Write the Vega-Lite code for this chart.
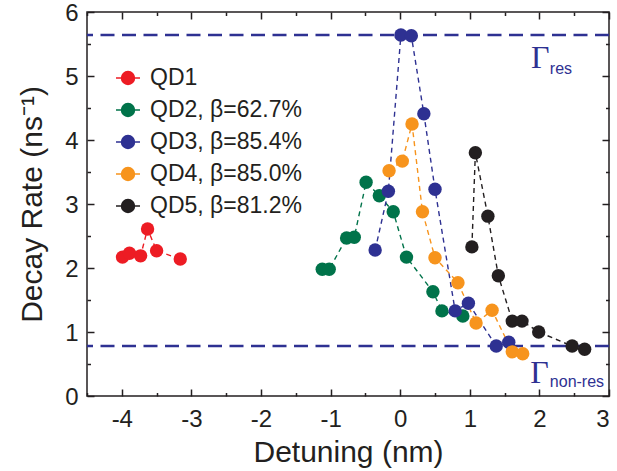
{
  "$schema": "https://vega.github.io/schema/vega-lite/v6.json",
  "width": 522,
  "height": 384,
  "autosize": {"type": "none"},
  "padding": {"left": 87, "top": 12, "right": 8, "bottom": 75},
  "background": "white",
  "config": {
    "view": {"stroke": "#231f20", "strokeWidth": 1.5},
    "font": "Liberation Sans",
    "axis": {
      "grid": false,
      "domain": false,
      "tickColor": "#231f20",
      "tickWidth": 1.5,
      "labelColor": "#231f20",
      "labelFont": "Liberation Sans",
      "labelFontSize": 24,
      "titleFont": "Liberation Sans",
      "titleFontWeight": "normal",
      "titleColor": "#231f20",
      "titleFontSize": 30
    },
    "legend": {
      "orient": "none",
      "legendX": 28,
      "legendY": 53,
      "padding": 0,
      "rowPadding": 7,
      "labelFont": "Liberation Sans",
      "labelFontSize": 23,
      "labelColor": "#231f20",
      "labelOffset": 9,
      "symbolSize": 576,
      "symbolStrokeWidth": 1.5,
      "symbolType": "M-1,0H-0.5M0.5,0H1M0.54,0A0.54,0.54,0,1,1,-0.54,0A0.54,0.54,0,1,1,0.54,0Z"
    }
  },
  "datasets": {
    "series": [
      {"series": "QD1", "x": -3.99, "y": 2.17},
      {"series": "QD1", "x": -3.89, "y": 2.23},
      {"series": "QD1", "x": -3.73, "y": 2.19},
      {"series": "QD1", "x": -3.63, "y": 2.61},
      {"series": "QD1", "x": -3.50, "y": 2.27},
      {"series": "QD1", "x": -3.16, "y": 2.14},
      {"series": "QD2, β=62.7%", "x": -1.12, "y": 1.98},
      {"series": "QD2, β=62.7%", "x": -1.02, "y": 1.98},
      {"series": "QD2, β=62.7%", "x": -0.77, "y": 2.47},
      {"series": "QD2, β=62.7%", "x": -0.66, "y": 2.48},
      {"series": "QD2, β=62.7%", "x": -0.49, "y": 3.34},
      {"series": "QD2, β=62.7%", "x": -0.30, "y": 3.13},
      {"series": "QD2, β=62.7%", "x": -0.10, "y": 2.88},
      {"series": "QD2, β=62.7%", "x": 0.09, "y": 2.17},
      {"series": "QD2, β=62.7%", "x": 0.47, "y": 1.63},
      {"series": "QD2, β=62.7%", "x": 0.60, "y": 1.33},
      {"series": "QD2, β=62.7%", "x": 0.90, "y": 1.25},
      {"series": "QD3, β=85.4%", "x": -0.36, "y": 2.28},
      {"series": "QD3, β=85.4%", "x": -0.17, "y": 3.20},
      {"series": "QD3, β=85.4%", "x": 0.01, "y": 5.64},
      {"series": "QD3, β=85.4%", "x": 0.16, "y": 5.63},
      {"series": "QD3, β=85.4%", "x": 0.34, "y": 4.41},
      {"series": "QD3, β=85.4%", "x": 0.50, "y": 3.23},
      {"series": "QD3, β=85.4%", "x": 0.79, "y": 1.33},
      {"series": "QD3, β=85.4%", "x": 0.98, "y": 1.45},
      {"series": "QD3, β=85.4%", "x": 1.38, "y": 0.78},
      {"series": "QD3, β=85.4%", "x": 1.56, "y": 0.84},
      {"series": "QD4, β=85.0%", "x": -0.16, "y": 3.52},
      {"series": "QD4, β=85.0%", "x": 0.03, "y": 3.67},
      {"series": "QD4, β=85.0%", "x": 0.17, "y": 4.25},
      {"series": "QD4, β=85.0%", "x": 0.32, "y": 2.88},
      {"series": "QD4, β=85.0%", "x": 0.50, "y": 2.16},
      {"series": "QD4, β=85.0%", "x": 0.83, "y": 1.77},
      {"series": "QD4, β=85.0%", "x": 1.09, "y": 1.14},
      {"series": "QD4, β=85.0%", "x": 1.32, "y": 1.34},
      {"series": "QD4, β=85.0%", "x": 1.61, "y": 0.69},
      {"series": "QD4, β=85.0%", "x": 1.76, "y": 0.66},
      {"series": "QD5, β=81.2%", "x": 1.03, "y": 2.33},
      {"series": "QD5, β=81.2%", "x": 1.08, "y": 3.80},
      {"series": "QD5, β=81.2%", "x": 1.26, "y": 2.81},
      {"series": "QD5, β=81.2%", "x": 1.41, "y": 1.88},
      {"series": "QD5, β=81.2%", "x": 1.61, "y": 1.17},
      {"series": "QD5, β=81.2%", "x": 1.75, "y": 1.17},
      {"series": "QD5, β=81.2%", "x": 1.99, "y": 1.00},
      {"series": "QD5, β=81.2%", "x": 2.47, "y": 0.78},
      {"series": "QD5, β=81.2%", "x": 2.65, "y": 0.73}
    ],
    "gamma": [{"level": 5.64}, {"level": 0.78}],
    "glabels": [
      {"x": 1.88, "y": 5.13, "t": "Γ"},
      {"x": 1.87, "y": 0.20, "t": "Γ"}
    ],
    "gsubs": [
      {"x": 2.15, "y": 5.03, "t": "res"},
      {"x": 2.15, "y": 0.14, "t": "non-res"}
    ]
  },
  "resolve": {
    "scale": {"x": "shared", "y": "shared"},
    "axis": {"x": "independent", "y": "independent"}
  },
  "layer": [
    {
      "data": {"name": "gamma"},
      "mark": {"type": "rule", "color": "#2e3192", "strokeWidth": 2.5, "strokeDash": [14, 7.5]},
      "encoding": {
        "y": {
          "field": "level", "type": "quantitative",
          "scale": {"domain": [0, 6], "nice": false, "zero": false},
          "axis": {"orient": "left", "values": [0, 1, 2, 3, 4, 5, 6], "tickSize": -7, "labelPadding": 16, "labelOffset": 1.5, "title": "Decay Rate (ns⁻¹)", "titlePadding": 17}
        }
      }
    },
    {
      "data": {"name": "series"},
      "mark": {"type": "line", "strokeWidth": 1.4, "strokeDash": [5, 4]},
      "encoding": {
        "x": {
          "field": "x", "type": "quantitative",
          "scale": {"domain": [-4.5, 3], "nice": false, "zero": false},
          "axis": {"orient": "bottom", "values": [-4, -3, -2, -1, 0, 1, 2, 3], "labelExpr": "datum.value + ''", "tickSize": -7, "labelPadding": 18, "title": "Detuning (nm)", "titlePadding": 6}
        },
        "y": {
          "field": "y", "type": "quantitative",
          "scale": {"domain": [0, 6], "nice": false, "zero": false},
          "axis": {"orient": "left", "values": [0.5, 1.5, 2.5, 3.5, 4.5, 5.5], "tickSize": -3.5, "labels": false, "title": null}
        },
        "color": {
          "field": "series", "type": "nominal",
          "scale": {"domain": ["QD1", "QD2, β=62.7%", "QD3, β=85.4%", "QD4, β=85.0%", "QD5, β=81.2%"], "range": ["#ed1c24", "#00734a", "#2e3192", "#f7941d", "#231f20"]},
          "legend": {"title": null, "encode": {"symbols": {"update": {"stroke": {"scale": "color", "field": "value"}, "strokeWidth": {"value": 1.5}}}}}
        }
      }
    },
    {
      "data": {"name": "series"},
      "mark": {"type": "point", "filled": true, "size": 180, "opacity": 1},
      "encoding": {
        "x": {
          "field": "x", "type": "quantitative",
          "scale": {"domain": [-4.5, 3], "nice": false, "zero": false},
          "axis": {"orient": "bottom", "values": [-4.5, -3.5, -2.5, -1.5, -0.5, 0.5, 1.5, 2.5], "tickSize": -3.5, "labels": false, "title": null}
        },
        "y": {
          "field": "y", "type": "quantitative",
          "scale": {"domain": [0, 6], "nice": false, "zero": false},
          "axis": {"orient": "right", "values": [0, 1, 2, 3, 4, 5, 6], "tickSize": -7, "labels": false, "title": null}
        },
        "color": {
          "field": "series", "type": "nominal",
          "scale": {"domain": ["QD1", "QD2, β=62.7%", "QD3, β=85.4%", "QD4, β=85.0%", "QD5, β=81.2%"], "range": ["#ed1c24", "#00734a", "#2e3192", "#f7941d", "#231f20"]},
          "legend": {"title": null, "encode": {"symbols": {"update": {"stroke": {"scale": "color", "field": "value"}, "strokeWidth": {"value": 1.5}}}}}
        }
      }
    },
    {
      "data": {"name": "glabels"},
      "mark": {"type": "text", "font": "Liberation Serif", "fontSize": 32, "color": "#2e3192", "align": "left", "baseline": "alphabetic"},
      "encoding": {
        "x": {
          "field": "x", "type": "quantitative",
          "scale": {"domain": [-4.5, 3], "nice": false, "zero": false},
          "axis": {"orient": "top", "values": [-4, -3, -2, -1, 0, 1, 2, 3], "tickSize": -7, "labels": false, "title": null}
        },
        "y": {
          "field": "y", "type": "quantitative",
          "scale": {"domain": [0, 6], "nice": false, "zero": false},
          "axis": {"orient": "right", "values": [0.5, 1.5, 2.5, 3.5, 4.5, 5.5], "tickSize": -3.5, "labels": false, "title": null}
        },
        "text": {"field": "t"}
      }
    },
    {
      "data": {"name": "gsubs"},
      "mark": {"type": "text", "font": "Liberation Sans", "fontSize": 16, "color": "#2e3192", "align": "left", "baseline": "alphabetic"},
      "encoding": {
        "x": {
          "field": "x", "type": "quantitative",
          "scale": {"domain": [-4.5, 3], "nice": false, "zero": false},
          "axis": {"orient": "top", "values": [-4.5, -3.5, -2.5, -1.5, -0.5, 0.5, 1.5, 2.5], "tickSize": -3.5, "labels": false, "title": null}
        },
        "y": {
          "field": "y", "type": "quantitative",
          "scale": {"domain": [0, 6], "nice": false, "zero": false},
          "axis": null
        },
        "text": {"field": "t"}
      }
    }
  ]
}
